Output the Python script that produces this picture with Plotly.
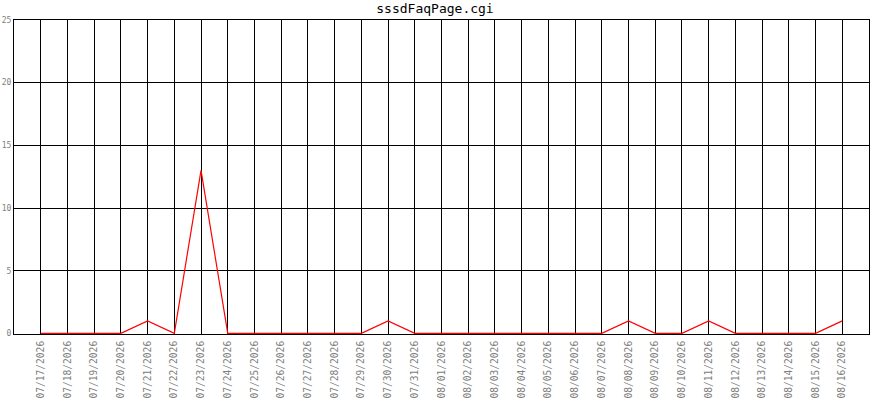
import plotly.graph_objects as go

dates = ["07/17/2026","07/18/2026","07/19/2026","07/20/2026","07/21/2026","07/22/2026",
         "07/23/2026","07/24/2026","07/25/2026","07/26/2026","07/27/2026","07/28/2026",
         "07/29/2026","07/30/2026","07/31/2026","08/01/2026","08/02/2026","08/03/2026",
         "08/04/2026","08/05/2026","08/06/2026","08/07/2026","08/08/2026","08/09/2026",
         "08/10/2026","08/11/2026","08/12/2026","08/13/2026","08/14/2026","08/15/2026",
         "08/16/2026"]
hits = [0,0,0,0,1,0,13,0,0,0,0,0,0,1,0,0,0,0,0,0,0,0,1,0,0,1,0,0,0,0,1]
y_ticks = [0,5,10,15,20,25]

fig = go.Figure()
fig.add_trace(go.Scatter(x=dates, y=hits, mode="lines",
                         line=dict(color="#ff0000", width=1.2), showlegend=False))

mono = "DejaVu Sans Mono"
fig.update_layout(
    width=870, height=400,
    margin=dict(l=14, r=1, t=20, b=66, autoexpand=False),
    paper_bgcolor="white", plot_bgcolor="white",
    title=dict(text="sssdFaqPage.cgi", x=0.5, xanchor="center", y=0.98, yanchor="middle",
               font=dict(family=mono, size=13, color="black")),
    xaxis=dict(type="category", categoryorder="array", categoryarray=dates,
               range=[-1, len(dates)], tickmode="array", tickvals=dates, ticktext=dates,
               tickangle=-90, showgrid=True, gridcolor="black", gridwidth=1,
               showline=True, linecolor="black", linewidth=1, mirror=True,
               ticks="outside", ticklen=2, tickcolor="white", automargin=False,
               layer="below traces",
               tickfont=dict(family=mono, size=9.6, color="#808080"), zeroline=False),
    yaxis=dict(range=[-0.05, 25], tickmode="array", tickvals=y_ticks,
               showgrid=True, gridcolor="black", gridwidth=1,
               showline=True, linecolor="black", linewidth=1, mirror=True,
               ticks="", ticklen=0, automargin=False, layer="below traces",
               tickfont=dict(family=mono, size=8, color="#808080"),
               zeroline=False),
)
fig.write_html("out.html", config={"displayModeBar": False},
               post_script="document.body.style.margin='0';document.body.style.overflow='hidden';")
